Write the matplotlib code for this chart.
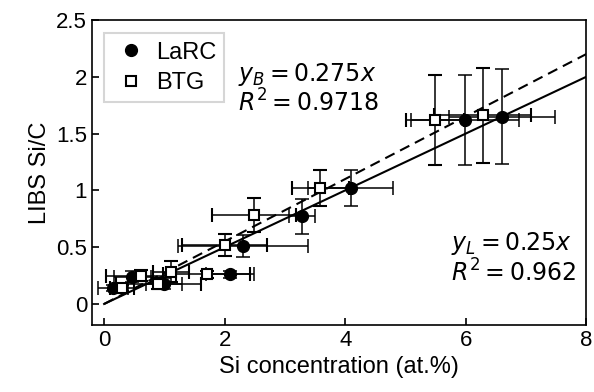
import numpy as np
import matplotlib
matplotlib.use("Agg")
import matplotlib.pyplot as plt

plt.rcParams['font.family'] = ['Liberation Sans', 'DejaVu Sans']
plt.rcParams['mathtext.fontset'] = 'dejavusans'

# LaRC samples (filled circles)
larc_x = [0.15, 0.47, 1.0, 2.09, 2.3, 3.28, 4.09, 5.99, 6.6]
larc_y = [0.14, 0.24, 0.18, 0.26, 0.51, 0.77, 1.02, 1.62, 1.65]
larc_xerr = [0.25, 0.3, 0.3, 0.4, 1.08, 0.22, 0.7, 0.9, 0.88]
larc_yerr = [0.03, 0.05, 0.05, 0.03, 0.1, 0.15, 0.16, 0.4, 0.42]

# BTG samples (open squares)
btg_x = [0.29, 0.61, 0.9, 1.11, 1.7, 2.0, 2.49, 3.59, 5.49, 6.28]
btg_y = [0.14, 0.25, 0.18, 0.285, 0.26, 0.52, 0.785, 1.02, 1.62, 1.66]
btg_xerr = [0.2, 0.58, 0.7, 0.3, 0.72, 0.7, 0.7, 0.48, 0.48, 0.8]
btg_yerr = [0.03, 0.05, 0.05, 0.09, 0.03, 0.1, 0.15, 0.16, 0.4, 0.42]

slope_L = 0.25
slope_B = 0.275

fig = plt.figure(figsize=(5.94, 3.92), dpi=100)
ax = fig.add_axes([0.155, 0.171, 0.832, 0.778])

xfit = np.array([0, 8])
ax.plot(xfit, slope_L * xfit, 'k-', lw=1.5)
ax.plot(xfit, slope_B * xfit, 'k--', lw=1.5, dashes=(5, 3))

ax.errorbar(larc_x, larc_y, xerr=larc_xerr, yerr=larc_yerr, fmt='o', color='k',
            ms=8.5, capsize=5, elinewidth=1.1, capthick=1.1, label='LaRC', zorder=3)
ax.errorbar(btg_x, btg_y, xerr=btg_xerr, yerr=btg_yerr, fmt='s', color='k', mfc='white',
            mec='k', mew=1.5, ms=7.5, capsize=5, elinewidth=1.1, capthick=1.1,
            label='BTG', zorder=3)

eq_font = dict(fontsize=17, va='center', family='DejaVu Sans')
ax.text(2.22, 2.02, r'$y_B = 0.275x$', **eq_font)
ax.text(2.22, 1.77, r'$R^2 = 0.9718$', **eq_font)
ax.text(5.76, 0.53, r'$y_L = 0.25x$', **eq_font)
ax.text(5.76, 0.27, r'$R^2 = 0.962$', **eq_font)

ax.set_xlim(-0.2, 8)
ax.set_ylim(-0.185, 2.5)
ax.set_xticks([0, 2, 4, 6, 8])
ax.set_yticks([0, 0.5, 1, 1.5, 2, 2.5])
ax.set_yticklabels(['0', '0.5', '1', '1.5', '2', '2.5'])
ax.tick_params(direction='in', labelsize=16, length=5, width=1.2)
for s in ax.spines.values():
    s.set_linewidth(1.2)
ax.set_xlabel('Si concentration (at.%)', fontsize=17)
ax.set_ylabel('LIBS Si/C', fontsize=17)

h = [plt.Line2D([], [], ls='', marker='o', color='k', ms=8.5),
     plt.Line2D([], [], ls='', marker='s', color='k', mfc='white', mew=1.5, ms=7.5)]
leg = ax.legend(h, ['LaRC', 'BTG'], loc='upper left', fontsize=17, fancybox=False,
                edgecolor='#cccccc', handletextpad=0.25, borderpad=0.35,
                handlelength=1.6, labelspacing=0.35, bbox_to_anchor=(0.0, 0.995))
leg.get_frame().set_linewidth(1.5)

fig.savefig('out.png', dpi=100)
